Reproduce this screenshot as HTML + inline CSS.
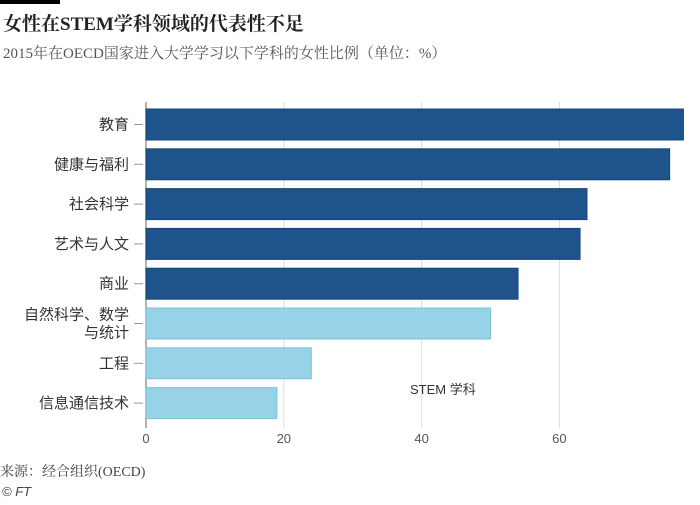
<!DOCTYPE html>
<html><head><meta charset="utf-8"><style>
body{margin:0;background:#fff;width:700px;height:500px;overflow:hidden;font-family:"Liberation Serif","Noto Serif CJK SC",serif;}
</style></head><body>
<svg width="700" height="500" xmlns="http://www.w3.org/2000/svg">
<rect x="0" y="0" width="60" height="4" fill="#000"/>
<text x="3" y="30" font-size="19" font-weight="bold" fill="#222">女性在STEM学科领域的代表性不足</text>
<text x="3" y="58" font-size="15" fill="#555">2015年在OECD国家进入大学学习以下学科的女性比例（单位：%）</text>
<g id="grid"></g><g id="bars"></g><g id="labels"></g>
<text x="410" y="394" font-size="13" fill="#333" font-family="Liberation Sans,Noto Sans CJK SC,sans-serif">STEM 学科</text>
<text x="0" y="476" font-size="14" fill="#444">来源：经合组织(OECD)</text>
<text x="2" y="496" font-size="13" font-style="italic" fill="#444" font-family="Liberation Sans,sans-serif">© FT</text>
</svg>
<script>
const categories=["教育","健康与福利","社会科学","艺术与人文","商业","自然科学、数学|与统计","工程","信息通信技术"];
const values=[78,76,64,63,54,50,24,19];
const stem=[false,false,false,false,false,true,true,true];
const ticks=[0,20,40,60];
const ns="http://www.w3.org/2000/svg";
const x0=146,ppu=6.89,yTop=105,pitch=39.8,bh=31;
const X=v=>x0+v*ppu;
function mk(t,a,p){const e=document.createElementNS(ns,t);for(const k in a)e.setAttribute(k,a[k]);p.appendChild(e);return e;}
const g=document.getElementById('grid'),b=document.getElementById('bars'),l=document.getElementById('labels');
ticks.forEach(t=>{
 const ln=mk('line',{x1:X(t),x2:X(t),y1:102,y2:428,stroke:t===0?'#999':'#ddd','stroke-width':t===0?1.5:1},g);
 
 
 const tx=mk('text',{x:X(t),y:443,'text-anchor':'middle','font-size':13,fill:'#555','font-family':'Liberation Sans,sans-serif'},g);
 tx.textContent=t;
 
 
});
categories.forEach((c,i)=>{
 const y=yTop+4+i*pitch;
 const r=mk('rect',{x:x0,y:y,width:X(values[i])-x0,height:bh,fill:stem[i]?'#96d3e7':'#1f538b',stroke:stem[i]?'#7fc2da':'#1a4677','stroke-width':1},b);
 
 
 const cy=y+bh/2;
 mk('line',{x1:134,x2:143,y1:cy,y2:cy,stroke:'#999'},l);
 const parts=c.split('|');
 parts.forEach((p,j)=>{
  const t=mk('text',{x:129,y:cy+5+(j-(parts.length-1)/2)*18,'text-anchor':'end','font-size':15,fill:'#333','font-family':'Liberation Sans,Noto Sans CJK SC,sans-serif'},l);
  t.textContent=p;
  
  
 });
});
</script>
</body></html>
